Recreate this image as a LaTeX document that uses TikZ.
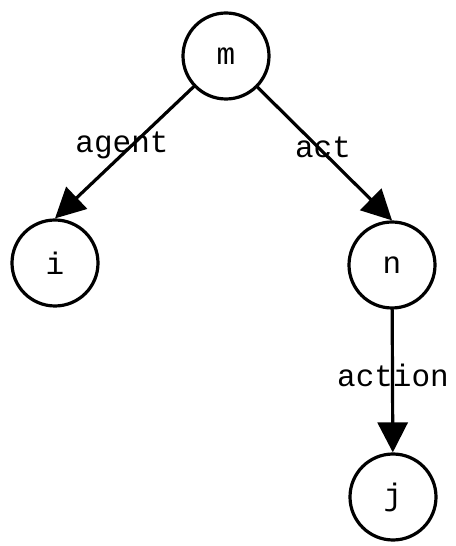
\documentclass[tikz,border=0pt]{standalone}
\usepackage{fontspec}
\setmonofont{Liberation Mono}
\usetikzlibrary{arrows.meta, positioning}

\begin{document}
\begin{tikzpicture}[line cap=round,line join=round,>={Triangle[length=30pt,width=30pt]},x=1pt,y=1pt,
  every node/.style={font=\ttfamily\fontsize{31}{31}\selectfont},
  vertex/.style={draw, circle, line width=3.2pt, minimum size=86pt, inner sep=0pt},
  edgelabel/.style={inner sep=0pt}]
\useasboundingbox (0,0) rectangle (455,546);

% Tree Nodes
\node [vertex] (m) at (226,490) {m};
\node [vertex] (i) at (55,283) {i};
\node [vertex] (n) at (392,281) {n};
\node [vertex] (j) at (393,49) {j};

% Edges
\draw [->, line width=3.2pt] (m) -- (i.north);
\draw [->, line width=3.2pt] (m) -- (n.north);
\draw [->, line width=3.2pt] (n) -- (j);

% Edge Labels
\node [edgelabel] (agent) at (122,401) {agent};
\node [edgelabel] (act) at (323,399) {act};
\node [edgelabel] (action) at (393,171) {action};
\end{tikzpicture}
\end{document}
